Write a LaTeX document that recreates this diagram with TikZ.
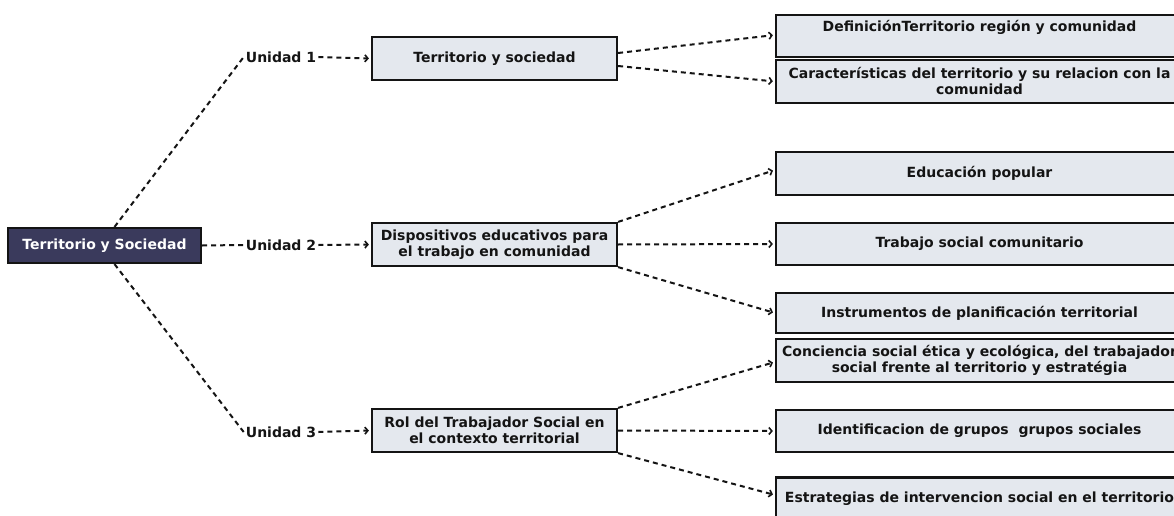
\documentclass[tikz,border=0pt]{standalone}
\usepackage{fontspec}
\setmainfont{DejaVu Sans}
\usetikzlibrary{arrows.meta}
\definecolor{rootfill}{HTML}{3A3A5C}
\definecolor{boxfill}{HTML}{E4E8EE}
\definecolor{ink}{HTML}{141414}
\tikzset{
  txt/.style={font=\fontsize{14}{16}\selectfont\bfseries, text=ink},
  rootbox/.style={txt, draw=ink, line width=2.2pt, fill=rootfill, text=white,
    minimum width=193pt, minimum height=35pt, inner sep=0pt},
  midbox/.style={txt, draw=ink, line width=2.2pt, fill=boxfill, align=center,
    minimum width=245pt, minimum height=43pt, inner sep=0pt},
  leafbox/.style={txt, draw=ink, line width=2.2pt, fill=boxfill, align=center,
    minimum width=407pt, minimum height=42pt, inner sep=0pt},
  unit/.style={txt, inner sep=2pt},
  link/.style={draw=ink, line width=2pt, dash pattern=on 5pt off 4pt},
  arr/.style={link, -{Straight Barb[length=3pt,width=7pt,line width=1.6pt]}, shorten >=2pt}
}
\begin{document}
\begin{tikzpicture}[x=1pt,y=-1pt]
\useasboundingbox (0,0) rectangle (1174,516);
\clip (0,0) rectangle (1174,516);
\fill[white] (0,0) rectangle (1174,516);

\node[rootbox] (root) at (104.5,245.5) {Territorio y Sociedad};

\node[unit] (u1) at (281,57) {Unidad 1};
\node[unit] (u2) at (281,245) {Unidad 2};
\node[unit] (u3) at (281,432) {Unidad 3};

\node[midbox] (b1) at (494.5,58.5) {Territorio y sociedad};
\node[midbox] (b2) at (494.5,244.5) {Dispositivos educativos para\\el trabajo en comunidad};
\node[midbox] (b3) at (494.5,430.5) {Rol del Trabajador Social en\\el contexto territorial};

\node[leafbox] (l1) at (979.5,36) {Definici\'onTerritorio regi\'on y comunidad\\\strut};
\node[leafbox, minimum height=43pt] (l2) at (979.5,81.5) {Caracter\'isticas del territorio y su relacion con la\\comunidad};
\node[leafbox, minimum height=43pt] (l3) at (979.5,173.5) {Educaci\'on popular};
\node[leafbox] (l4) at (979.5,244) {Trabajo social comunitario};
\node[leafbox, minimum height=40pt] (l5) at (979.5,313) {Instrumentos de planificaci\'on territorial};
\node[leafbox, minimum height=43pt] (l6) at (979.5,360.5) {Conciencia social \'etica y ecol\'ogica, del trabajador\\social frente al territorio y estrat\'egia};
\node[leafbox] (l7) at (979.5,431) {Identificacion de grupos~ grupos sociales};
\node[leafbox, minimum height=43pt] (l8) at (979.5,499) {Estrategias de intervencion social en el territorio};

\draw[link] ([xshift=10pt]root.north) -- (u1.west);
\draw[link] (root.east) -- (u2.west);
\draw[link] ([xshift=10pt]root.south) -- (u3.west);

\draw[arr] (u1.east) -- (b1.west);
\draw[arr] (u2.east) -- (b2.west);
\draw[arr] (u3.east) -- (b3.west);

\draw[arr] ([yshift=5.5pt]b1.east) -- ([yshift=1pt]l1.west);
\draw[arr] ([yshift=-7.5pt]b1.east) -- (l2.west);

\draw[arr] (b2.north east) -- ([yshift=3.5pt]l3.west);
\draw[arr] (b2.east) -- (l4.west);
\draw[arr] (b2.south east) -- (l5.west);

\draw[arr] (b3.north east) -- ([yshift=-1.5pt]l6.west);
\draw[arr] (b3.east) -- (l7.west);
\draw[arr] (b3.south east) -- ([yshift=4pt]l8.west);
\end{tikzpicture}
\end{document}
